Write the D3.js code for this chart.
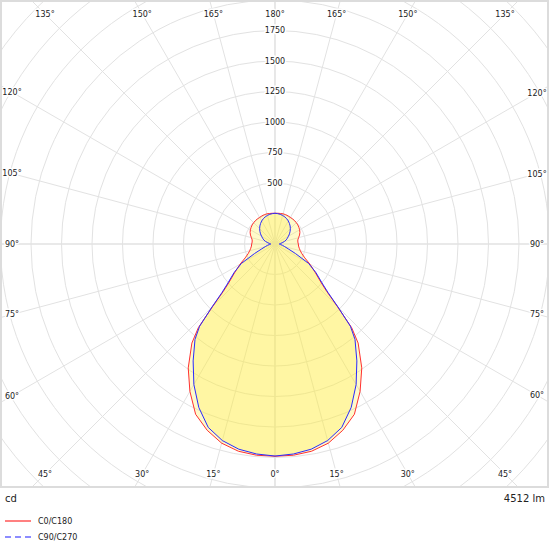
<!DOCTYPE html>
<html>
<head>
<meta charset="utf-8">
<script src="https://cdn.jsdelivr.net/npm/d3@7/dist/d3.min.js"></script>
<style>
  body { margin: 0; background: #fff; }
  svg { display: block; }
  text { font-family: "DejaVu Sans", sans-serif; fill: #222; }
</style>
</head>
<body>
<svg id="chart"></svg>
<script>
const width = 550;
const height = 550;

// gamma angles (deg, 0 = straight down) and intensities in cd
const gammaAngles = [0, 5, 10, 15, 20, 25, 30, 35, 40, 42.5, 45, 47.5, 50, 55, 60, 65, 70, 75, 80, 85, 90,
  95, 100, 105, 110, 115, 120, 125, 130, 135, 140, 145, 150, 155, 160, 165, 170, 175, 180];
const c0c180 = [1740, 1738, 1725, 1690, 1625, 1540, 1395, 1240, 1060, 930, 720, 575, 495, 400, 330, 270, 235, 215, 202, 194, 191,
  188, 190, 200, 214, 225, 233, 239, 244, 247, 250, 251, 252, 254, 256, 256, 254, 253, 252];
const c90c270 = [1738, 1728, 1708, 1668, 1600, 1478, 1330, 1170, 1020, 915, 730, 590, 510, 410, 318, 185, 115, 82, 62, 45, 35,
  45, 60, 80, 98, 112, 127, 145, 162, 178, 193, 206, 218, 228, 236, 242, 247, 250, 252];

const ringValues = [250, 500, 750, 1000, 1250, 1500, 1750, 2000, 2250, 2500, 2750, 3000, 3250];
const ringLabels = [500, 750, 1000, 1250, 1500, 1750];
const angleTicks = [0, 15, 30, 45, 60, 75, 90, 105, 120, 135, 150, 165, 180];
const seriesNames = ["C0/C180", "C90/C270"];
const unitLabel = "cd";
const fluxLabel = "4512 lm";

const cx = 275, cy = 244;
const frame = { x0: 1, y0: 1, x1: 548, y1: 487 };

const r = d3.scaleLinear().domain([0, 250]).range([0, 30.5]);
const rad = d => d * Math.PI / 180;

const svg = d3.select("#chart")
    .attr("width", width)
    .attr("height", height);

svg.append("clipPath").attr("id", "plotclip")
  .append("rect")
    .attr("x", frame.x0).attr("y", frame.y0)
    .attr("width", frame.x1 - frame.x0).attr("height", frame.y1 - frame.y0);

const plot = svg.append("g").attr("clip-path", "url(#plotclip)");
const g = plot.append("g").attr("transform", `translate(${cx},${cy})`);

// grid rings
g.selectAll(".ring")
  .data(ringValues)
  .enter().append("circle")
    .attr("r", d => r(d))
    .attr("fill", "none")
    .attr("stroke", "#e2e2e2")
    .attr("stroke-width", 1);

// radial lines every 15 deg
g.selectAll(".spoke")
  .data(d3.range(0, 360, 15))
  .enter().append("line")
    .attr("x2", d => 420 * Math.sin(rad(d)))
    .attr("y2", d => 420 * Math.cos(rad(d)))
    .attr("stroke", "#e2e2e2")
    .attr("stroke-width", d => d % 90 === 0 ? 1.6 : 1);

// closed curve: right half (gamma 0..180) then left half back down
function curvePoints(values) {
  const right = gammaAngles.map((a, i) => [Math.PI - rad(a), r(values[i])]);
  const left = gammaAngles.map((a, i) => [Math.PI + rad(a), r(values[i])]).reverse();
  return right.concat(left);
}

const line = d3.lineRadial()
    .angle(d => d[0])
    .radius(d => d[1])
    .curve(d3.curveLinearClosed);

const curves = [
  { name: seriesNames[0], values: c0c180, color: "#ff3030" },
  { name: seriesNames[1], values: c90c270, color: "#2a2aff" }
];

g.selectAll(".fill")
  .data(curves)
  .enter().append("path")
    .attr("d", d => line(curvePoints(d.values)))
    .attr("fill", "rgba(255,236,60,0.27)")
    .attr("stroke", "none");

g.selectAll(".outline")
  .data(curves)
  .enter().append("path")
    .attr("d", d => line(curvePoints(d.values)))
    .attr("fill", "none")
    .attr("stroke", d => d.color)
    .attr("stroke-width", 1);

// intensity labels on the vertical axis
g.selectAll(".ringlabel")
  .data(ringLabels)
  .enter().append("text")
    .attr("x", 0)
    .attr("y", d => -r(d))
    .attr("dy", "0.35em")
    .attr("text-anchor", "middle")
    .attr("font-size", 8)
    .attr("stroke", "#fff")
    .attr("stroke-width", 3)
    .attr("paint-order", "stroke")
    .text(d => d);

// angle labels where the spokes meet an inset box
const box = { x0: 12, x1: 537, y0: 14, y1: 474 };
const angleLabels = [];
angleTicks.forEach(a => {
  [1, -1].forEach(side => {
    if ((a === 0 || a === 180) && side === -1) return;
    const dx = side * Math.sin(rad(a)), dy = Math.cos(rad(a));
    const ts = [];
    if (dx > 1e-9) ts.push((box.x1 - cx) / dx);
    if (dx < -1e-9) ts.push((box.x0 - cx) / dx);
    if (dy > 1e-9) ts.push((box.y1 - cy) / dy);
    if (dy < -1e-9) ts.push((box.y0 - cy) / dy);
    const t = d3.min(ts);
    angleLabels.push({ a, x: cx + t * dx, y: cy + t * dy });
  });
});

plot.selectAll(".anglelabel")
  .data(angleLabels)
  .enter().append("text")
    .attr("x", d => d.x)
    .attr("y", d => d.y)
    .attr("dy", "0.35em")
    .attr("text-anchor", "middle")
    .attr("font-size", 8)
    .attr("stroke", "#fff")
    .attr("stroke-width", 3)
    .attr("paint-order", "stroke")
    .text(d => d.a + "°");

// frame
svg.append("rect")
    .attr("x", frame.x0).attr("y", frame.y0)
    .attr("width", frame.x1 - frame.x0).attr("height", frame.y1 - frame.y0)
    .attr("fill", "none")
    .attr("stroke", "#dcdcdc")
    .attr("stroke-width", 2);

svg.append("text")
    .attr("x", 5).attr("y", 502)
    .attr("font-size", 10)
    .text(unitLabel);

svg.append("text")
    .attr("x", 545).attr("y", 502)
    .attr("text-anchor", "end")
    .attr("font-size", 10)
    .text(fluxLabel);

// legend
const legendStyle = [
  { color: "#ff8080", dash: null },
  { color: "#8c8cff", dash: "6,4" }
];
const legend = svg.selectAll(".legend")
  .data(seriesNames)
  .enter().append("g")
    .attr("transform", (d, i) => `translate(5,${521 + i * 16})`);

legend.append("line")
    .attr("x1", 0).attr("x2", 26)
    .attr("stroke", (d, i) => legendStyle[i].color)
    .attr("stroke-width", 2)
    .attr("stroke-dasharray", (d, i) => legendStyle[i].dash);

legend.append("text")
    .attr("x", 33)
    .attr("dy", "0.35em")
    .attr("font-size", 8)
    .text(d => d);
</script>
</body>
</html>
